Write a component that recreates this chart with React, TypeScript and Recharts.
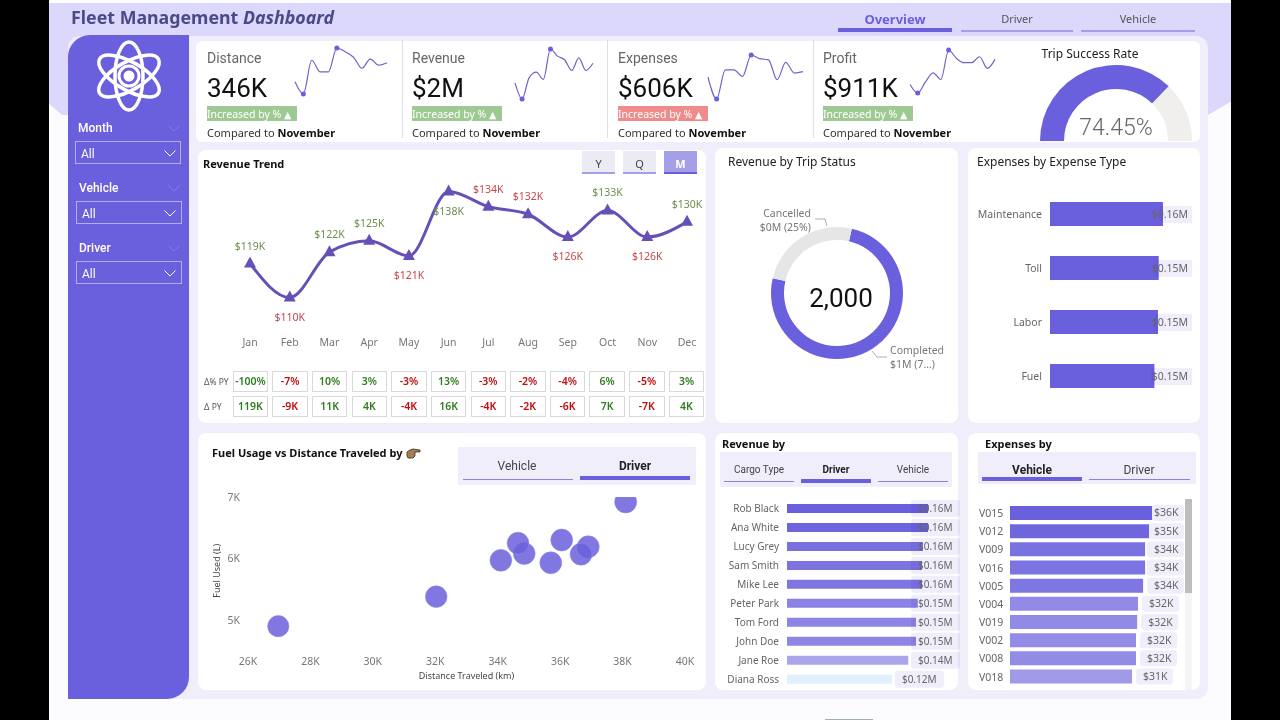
import React from 'react';
import { LineChart, Line, XAxis, YAxis, ZAxis, PieChart, Pie, Cell, BarChart, Bar, ScatterChart, Scatter, LabelList } from 'recharts';

const months = ['Jan','Feb','Mar','Apr','May','Jun','Jul','Aug','Sep','Oct','Nov','Dec'];
const revenueK = [119,110,122,125,121,138,134,132,126,133,126,130];
const distanceK = [26.5,24.5,30,28.1,28.1,32,31.4,30.5,28.7,30.2,29.2,29.6];
const expensesK = [48.4,42.5,50.4,50.4,48.6,54.4,53.4,53.1,47.7,52.4,49.5,49.9];
const profitK = [64.6,58.8,66.4,72.6,68,88.2,82.5,79.5,79.5,83.6,75.6,81.8];
const deltaPct = ['-100%','-7%','10%','3%','-3%','13%','-3%','-2%','-4%','6%','-5%','3%'];
const deltaK = [119,-9,11,4,-4,16,-4,-2,-6,7,-7,4];

const kpiNames = ['Distance','Revenue','Expenses','Profit'];
const kpiValues = ['346K','$2M','$606K','$911K'];
const kpiGood = [true,true,false,true];

const tripSuccess = [74.45, 25.55];
const statusNames = ['Completed','Cancelled'];
const statusValues = [1137000, 379000];
const statusCaptions = ['$1M (7...)','$0M (25%)'];
const tripCount = '2,000';

const expenseTypes = ['Maintenance','Toll','Labor','Fuel'];
const expenseTypeK = [158,152,151,146];

const drivers = ['Rob Black','Ana White','Lucy Grey','Sam Smith','Mike Lee','Peter Park','Tom Ford','John Doe','Jane Roe','Diana Ross'];
const driverRevenueK = [164,164,158,157,157,152,150,150,141,122];
const vehicles = ['V015','V012','V009','V016','V005','V004','V019','V002','V008','V018'];
const vehicleExpenseK = [36,35.2,34.2,34.2,33.7,32.4,32.2,31.9,31.9,30.9];

const scatterDistance = [38100,36900,36670,36050,35700,34850,34650,34100,32030,26970];
const scatterFuel = [6920,6190,6070,6300,5930,6080,6250,5970,5380,4900];
const xTicks = [26000,28000,30000,32000,34000,36000,38000,40000];
const yTicks = [5000,6000,7000];

const PURPLE = '#6a5fdc';
const driverColors = ['#6a5fdc','#6e64dd','#7a71e0','#7c73e1','#7e75e1','#8a82e4','#8d85e4','#8e86e5','#aaa6ec','#e2effc'];
const vehicleColors = ['#6a5fdc','#6f66de','#7a72e0','#7b73e1','#7e76e1','#918ae6','#928be6','#938ce6','#938ce7','#a09ae9'];

const trendData = months.map((m, i) => ({ m, v: revenueK[i], d: deltaK[i] }));
const belowMonths = new Set(['Feb','May','Jun','Sep','Nov']);

const SEGOE = '"Noto Sans", sans-serif';
const DIN = 'Roboto, sans-serif';

type TP = { x:number; y:number; s?:number; c?:string; b?:number|string; f?:string; a?:'l'|'c'|'r'; i?:boolean; children:React.ReactNode };
function T({x,y,s=11,c='#333',b=400,f=DIN,a='l',i=false,children}:TP){
  const tx = a==='c'?'-50%':a==='r'?'-100%':'0';
  return <div style={{position:'absolute',left:x,top:y,transform:`translate(${tx},-50%)`,fontSize:s,color:c,fontWeight:b,fontFamily:f,fontStyle:i?'italic':'normal',lineHeight:1,whiteSpace:'nowrap'}}>{children}</div>;
}
function Box({x,y,w,h,bg,r=0,style}:{x:number;y:number;w:number;h:number;bg:string;r?:number|string;style?:React.CSSProperties}){
  return <div style={{position:'absolute',left:x,top:y,width:w,height:h,background:bg,borderRadius:r,...style}}/>;
}

function Spark({x,y,w,h,data}:{x:number;y:number;w:number;h:number;data:number[]}){
  const rows = months.map((m,i)=>({m,v:data[i]}));
  const lo = Math.min(...data), hi = Math.max(...data);
  const dot = (p:any)=> (p.value===lo||p.value===hi) ? <circle key={p.index} cx={p.cx} cy={p.cy} r={2.5} fill={PURPLE}/> : <g key={p.index}/>;
  return <div style={{position:'absolute',left:x-4,top:y-4}}>
    <LineChart width={w+8} height={h+8} data={rows} margin={{top:4,right:4,bottom:4,left:4}}>
      <XAxis dataKey="m" hide/><YAxis hide domain={['dataMin','dataMax']}/>
      <Line dataKey="v" type="monotone" stroke="#6f63c8" strokeWidth={1.2} dot={dot} activeDot={false} isAnimationActive={false}/>
    </LineChart></div>;
}

function Slicer({items,active,size,onY,offY}:{items:{t:string;cx:number;x:number;w:number}[];active:number;size:number;onY:number;offY:number}){
  return <>{items.map((it,i)=><React.Fragment key={it.t}>
    <T x={it.cx} y={0} a="c" s={size} b={i===active?700:400} c={i===active?'#222':'#444'}>{it.t}</T>
    <Box x={it.x} y={i===active?onY:offY} w={it.w} h={i===active?3.5:1.2} bg={i===active?PURPLE:'#8a82e0'}/>
  </React.Fragment>)}</>;
}

const Tri = (p:any)=><polygon key={p.index} points={`${p.cx},${p.cy-7} ${p.cx+6},${p.cy+4} ${p.cx-6},${p.cy+4}`} fill="#6650b8"/>;
const TrendLabel = (p:any)=>{
  const m = months[p.index]; const below = belowMonths.has(m);
  return <text x={p.x} y={p.y+(below?23:-14)} textAnchor="middle" fontSize={10.5} fontFamily={SEGOE} fill={deltaK[p.index]>=0?'#6d8f4e':'#c9474d'}>{`$${p.value}K`}</text>;
};

const fmtM = (k:number)=>`$${(k/1000).toFixed(2)}M`;

const ExpenseTypeLabel = (p:any)=>{
  const endX = p.x+p.width;
  const right = 1188-968;
  return <g>
    <rect x={endX-3} y={p.y+4} width={right+4-endX+3} height={17} fill="#f0eefb" style={{mixBlendMode:'multiply'}}/>
    <text x={right} y={p.y+p.height/2+3.5} textAnchor="end" fontSize={10.5} fontFamily={SEGOE} fill="#666">{fmtM(p.value)}</text>
  </g>;
};
const DriverLabel = (p:any)=>{
  const endX = p.x+p.width;
  const start = Math.min(endX+10, 203);
  return <g>
    <rect x={start-7} y={p.y+p.height/2-8.5} width={49} height={17} rx={3} fill="#f0eefb" style={{mixBlendMode:'multiply'}}/>
    <text x={start} y={p.y+p.height/2+3.5} fontSize={10} fontFamily={SEGOE} fill="#666">{fmtM(p.value)}</text>
  </g>;
};
const DriverTick = (p:any)=><text x={64} y={p.y+3.5} textAnchor="end" fontSize={10} fontFamily={SEGOE} fill="#666">{p.payload.value}</text>;
const VehicleLabel = (p:any)=>{
  const endX = p.x+p.width;
  const start = Math.min(endX+11, 186);
  const left = Math.max(start-7, endX);
  return <g>
    <rect x={left} y={p.y+p.height/2-8} width={start+30-left} height={16} rx={3} fill="#f0eefb"/>
    <text x={start} y={p.y+p.height/2+3.5} fontSize={10.5} fontFamily={SEGOE} fill="#666">{`$${Math.round(p.value)}K`}</text>
  </g>;
};
const VehicleTick = (p:any)=><text x={11} y={p.y+4} fontSize={10.5} fontFamily={SEGOE} fill="#666">{p.payload.value}</text>;

const PieLabel = (p:any)=>{
  const i = p.index;
  const cx = p.cx, cy = p.cy;
  if(i===1){
    return <g>
      <polyline points={`${cx-10},${cy-67} ${cx-12},${cy-74} ${cx-22},${cy-74}`} fill="none" stroke="#999" strokeWidth={0.8}/>
      <text x={cx-26} y={cy-76} textAnchor="end" fontSize={10.5} fontFamily={SEGOE} fill="#777">{statusNames[i]}</text>
      <text x={cx-26} y={cy-62} textAnchor="end" fontSize={10.5} fontFamily={SEGOE} fill="#777">{statusCaptions[i]}</text>
    </g>;
  }
  return <g>
    <polyline points={`${cx+35},${cy+58} ${cx+40},${cy+64} ${cx+50},${cy+64}`} fill="none" stroke="#999" strokeWidth={0.8}/>
    <text x={cx+53} y={cy+61} fontSize={10.5} fontFamily={SEGOE} fill="#777">{statusNames[i]}</text>
    <text x={cx+53} y={cy+75} fontSize={10.5} fontFamily={SEGOE} fill="#777">{statusCaptions[i]}</text>
  </g>;
};

function Chevron({x,y,c='#fff',w=12}:{x:number;y:number;c?:string;w?:number}){
  return <svg style={{position:'absolute',left:x,top:y}} width={w} height={w/2+1}><polyline points={`0.5,0.5 ${w/2},${w/2} ${w-0.5},0.5`} fill="none" stroke={c} strokeWidth={1}/></svg>;
}
function Filter({label,ly,bx,by}:{label:string;ly:number;bx:number;by:number}){
  return <>
    <T x={bx+3} y={ly} s={12} b={500} c="#fff" f={DIN}>{label}</T>
    <Chevron x={168} y={ly-3} c="#857ce6"/>
    <div style={{position:'absolute',left:bx,top:by,width:104,height:21,border:'1px solid #b3adf2'}}/>
    <T x={bx+6} y={by+13} s={12} c="#fff">All</T>
    <Chevron x={164} y={by+9}/>
  </>;
}

export default function App(){
  const kpiX = [207,412,618,823];
  const cellX = (i:number)=>232.7+i*39.64;
  const scatterData = scatterDistance.map((x,i)=>({x,y:scatterFuel[i],z:driverRevenueK[i]}));
  return <div style={{position:'absolute',left:0,top:0,width:1280,height:720,overflow:'hidden',background:'#000',fontFamily:DIN}}>
    <Box x={49} y={0} w={1182} h={720} bg="#fcfcfe"/>
    <Box x={49} y={3} w={1182} h={112} bg="#dcd8fb" style={{clipPath:'polygon(0 0,100% 0,100% 88%,1159px 100%,13px 100%,0 90%)'}}/>
    <Box x={68} y={36} w={1140} h={663} bg="#f0eefb" r={12}/>
    <Box x={825} y={719} w={48} h={1} bg="#9fb0b5"/>

    <T x={71} y={18} s={17.8} b={700} f={SEGOE} c="#4a4a88">Fleet Management <i>Dashboard</i></T>
    <T x={895} y={19} s={13} b={700} c={PURPLE} a="c" f={SEGOE}>Overview</T>
    <Box x={838} y={28} w={114} h={4} bg={PURPLE}/>
    <T x={1017} y={18} s={11} c="#555" a="c" f={SEGOE}>Driver</T>
    <Box x={961} y={30} w={112} h={2} bg="#a59fe8"/>
    <T x={1138} y={18} s={11} c="#555" a="c" f={SEGOE}>Vehicle</T>
    <Box x={1081} y={30} w={114} h={2} bg="#a59fe8"/>

    {/* sidebar */}
    <Box x={68} y={35} w={121} h={664} bg={PURPLE} r="22px 0 22px 0"/>
    <svg style={{position:'absolute',left:94,top:40}} width={70} height={72} viewBox="-35 -36 70 72">
      <g fill="none" stroke="#fff" strokeWidth={3.5}>
        <ellipse rx={14} ry={34}/>
        <ellipse rx={14} ry={34} transform="rotate(60)"/>
        <ellipse rx={14} ry={34} transform="rotate(-60)"/>
        <circle r={10} strokeWidth={3}/>
      </g>
      <circle r={5.5} fill="#fff"/>
    </svg>
    <Filter label="Month" ly={128} bx={75} by={141}/>
    <Filter label="Vehicle" ly={188} bx={76} by={201}/>
    <Filter label="Driver" ly={248} bx={76} by={261}/>

    {/* KPI strip */}
    <Box x={196} y={41} w={1004} h={101} bg="#fff" r={6}/>
    {[402,607,813].map(x=><Box key={x} x={x} y={40} w={1} h={98} bg="#dedee6"/>)}
    {kpiNames.map((n,i)=><React.Fragment key={n}>
      <T x={kpiX[i]} y={58} s={14} c="#666">{n}</T>
      <T x={kpiX[i]} y={88} s={26} c="#111">{kpiValues[i]}</T>
      <Box x={kpiX[i]} y={106} w={90} h={15} bg={kpiGood[i]?'#9fc993':'#ef8b8b'}/>
      <T x={kpiX[i]} y={113.5} s={10.5} c="#fff" f={SEGOE}>Increased by % <span style={{fontFamily:'"DejaVu Sans"',fontSize:9.5}}>▲</span></T>
      <T x={kpiX[i]} y={132} s={11} f={SEGOE} c="#333">Compared to <b style={{color:'#111'}}>November</b></T>
    </React.Fragment>)}
    <Spark x={295} y={48} w={92} h={46} data={distanceK}/>
    <Spark x={515} y={49} w={78} h={50} data={revenueK}/>
    <Spark x={708} y={55} w={95} h={44} data={expensesK}/>
    <Spark x={910} y={50} w={85} h={43} data={profitK}/>

    <T x={1090} y={54} s={12} c="#222" a="c" f={SEGOE}>Trip Success Rate</T>
    <div style={{position:'absolute',left:1030,top:55}}>
      <PieChart width={172} height={87} margin={{top:0,right:0,bottom:0,left:0}}>
        <Pie data={tripSuccess.map(v=>({v}))} dataKey="v" cx={86} cy={86} outerRadius={76} innerRadius={52} startAngle={180} endAngle={0} stroke="none" isAnimationActive={false}>
          <Cell fill={PURPLE}/><Cell fill="#f0efed"/>
        </Pie>
      </PieChart>
    </div>
    <T x={1116} y={127} s={23} b={300} c="#666" a="c">{tripSuccess[0]}%</T>

    {/* revenue trend */}
    <Box x={198} y={150} w={508} h={273} bg="#fff" r={8}/>
    <T x={203} y={163} s={11} b={700} c="#111" f={SEGOE}>Revenue Trend</T>
    {['Y','Q','M'].map((t,i)=>{const x=582+i*41;const on=t==='M';return <React.Fragment key={t}>
      <Box x={x} y={151} w={33} h={23} bg={on?'#a59fe8':'#ebebf3'}/>
      <Box x={x} y={172} w={33} h={2} bg={on?PURPLE:'#a59fe8'}/>
      <T x={x+16.5} y={163} s={11} a="c" b={on?700:400} c={on?'#fff':'#444'} f={SEGOE}>{t}</T>
    </React.Fragment>;})}
    <div style={{position:'absolute',left:198,top:164.5}}>
      <LineChart width={508} height={200.5} data={trendData} margin={{top:0,right:19,bottom:0,left:52}}>
        <XAxis dataKey="m" axisLine={false} tickLine={false} tickSize={0} tickMargin={3} interval={0} tick={{fontSize:10.5,fill:'#777',fontFamily:SEGOE}}/>
        <YAxis hide domain={[100,145]}/>
        <Line dataKey="v" type="monotone" stroke="#6650b8" strokeWidth={3} dot={Tri} activeDot={false} isAnimationActive={false}>
          <LabelList dataKey="v" content={TrendLabel}/>
        </Line>
      </LineChart>
    </div>
    <T x={204} y={382} s={8.5} c="#555" f={SEGOE}>Δ% PY</T>
    <T x={204} y={407} s={8.5} c="#555" f={SEGOE}>Δ PY</T>
    {months.map((m,i)=>{const col=deltaK[i]>=0?'#2f7d20':'#c00d0d';const cell=(y:number,t:string)=><div style={{position:'absolute',left:cellX(i),top:y,width:33.5,height:18.5,border:'1px solid #d9d9d9',color:col,fontSize:10.5,fontWeight:600,fontFamily:SEGOE,lineHeight:'18.5px',textAlign:'center',whiteSpace:'nowrap'}}>{t}</div>;
      return <React.Fragment key={m}>{cell(371,deltaPct[i])}{cell(396,`${deltaK[i]}K`)}</React.Fragment>;})}

    {/* trip status */}
    <Box x={715} y={148} w={243} h={275} bg="#fff" r={8}/>
    <T x={728} y={162} s={12} c="#222" f={SEGOE}>Revenue by Trip Status</T>
    <div style={{position:'absolute',left:715,top:150}}>
      <PieChart width={243} height={273} margin={{top:0,right:0,bottom:0,left:0}}>
        <Pie data={statusValues.map((v,i)=>({name:statusNames[i],v}))} dataKey="v" cx={122} cy={143} outerRadius={66} innerRadius={53} startAngle={77} endAngle={-283} stroke="none" label={PieLabel} labelLine={false} isAnimationActive={false}>
          <Cell fill={PURPLE}/><Cell fill="#e6e6e6"/>
        </Pie>
      </PieChart>
    </div>
    <T x={841} y={298} s={26} c="#111" a="c">{tripCount}</T>

    {/* expense type */}
    <Box x={968} y={148} w={232} h={275} bg="#fff" r={8}/>
    <T x={977} y={162} s={12} c="#222" f={SEGOE}>Expenses by Expense Type</T>
    <div style={{position:'absolute',left:968,top:187}}>
      <BarChart width={240} height={216} layout="vertical" data={expenseTypes.map((n,i)=>({n,v:expenseTypeK[i]}))} margin={{top:0,right:15,bottom:0,left:0}}>
        <XAxis type="number" hide domain={[0,200]}/>
        <YAxis type="category" dataKey="n" width={82} axisLine={false} tickLine={false} tick={{fontSize:10.5,fill:'#666',fontFamily:SEGOE}} interval={0}/>
        <Bar dataKey="v" fill={PURPLE} barSize={24} isAnimationActive={false}>
          <LabelList dataKey="v" content={ExpenseTypeLabel}/>
        </Bar>
      </BarChart>
    </div>

    {/* scatter */}
    <Box x={198} y={433} w={508} h={257} bg="#fff" r={8}/>
    <T x={212} y={452} s={11} b={700} c="#111" f={SEGOE}>Fuel Usage vs Distance Traveled by</T>
    <svg style={{position:'absolute',left:406,top:447}} width={15} height={12} viewBox="0 0 15 12">
      <path d="M1 5 L4 3 L7 2 L14 3 L14 5 L9 5 L9 9 L7 11 L2 11 L1 9 Z" fill="#a47c55" stroke="#3a2a1c" strokeWidth={0.8}/>
    </svg>
    <Box x={458} y={447} w={238} h={38} bg="#f0eefb"/>
    <div style={{position:'absolute',left:0,top:466}}>
      <Slicer active={1} size={12} onY={10} offY={13} items={[{t:'Vehicle',cx:517,x:463,w:110},{t:'Driver',cx:635,x:580,w:110}]}/>
    </div>
    <div style={{position:'absolute',left:198,top:485}}>
      <ScatterChart width={508} height={199.6} margin={{top:12,right:21,bottom:0,left:0}}>
        <XAxis type="number" dataKey="x" domain={[26000,40000]} ticks={xTicks} interval={0} allowDataOverflow axisLine={false} tickLine={false} tickMargin={7} height={40} tickFormatter={(v:number)=>`${v/1000}K`} tick={{fontSize:10.5,fill:'#777',fontFamily:SEGOE}}
          label={{value:'Distance Traveled (km)',position:'insideBottom',offset:6,style:{fontSize:9,fill:'#444',fontFamily:SEGOE}}}/>
        <YAxis type="number" dataKey="y" domain={[4600,7000]} ticks={yTicks} interval={0} allowDataOverflow axisLine={false} tickLine={false} width={50} tickFormatter={(v:number)=>`${v/1000}K`} tick={{fontSize:10.5,fill:'#777',fontFamily:SEGOE}}
          label={{value:'Fuel Used (L)',angle:-90,position:'insideLeft',offset:19,style:{fontSize:9,fill:'#444',fontFamily:SEGOE,textAnchor:'middle'}}}/>
        <ZAxis type="number" dataKey="z" range={[283,380]}/>
        <Scatter data={scatterData} fill={PURPLE} fillOpacity={0.85} stroke="#8f87e6" strokeWidth={0.6} isAnimationActive={false}/>
      </ScatterChart>
    </div>

    {/* revenue by */}
    <Box x={715} y={433} w={243} h={257} bg="#fff" r={8}/>
    <T x={722} y={443} s={11} b={700} c="#111" f={SEGOE}>Revenue by</T>
    <Box x={720} y={452} w={232} h={35} bg="#f0eefb"/>
    <div style={{position:'absolute',left:0,top:470}}>
      <Slicer active={1} size={10} onY={9} offY={11} items={[{t:'Cargo Type',cx:759,x:724,w:70},{t:'Driver',cx:836,x:801,w:70},{t:'Vehicle',cx:913,x:878,w:70}]}/>
    </div>
    <div style={{position:'absolute',left:715,top:498.8}}>
      <BarChart width={250} height={189.7} layout="vertical" data={drivers.map((n,i)=>({n,v:driverRevenueK[i]}))} margin={{top:0,right:6,bottom:0,left:0}}>
        <XAxis type="number" hide domain={[0,200]}/>
        <YAxis type="category" dataKey="n" width={72} axisLine={false} tickLine={false} tick={DriverTick} interval={0}/>
        <Bar dataKey="v" barSize={9} isAnimationActive={false}>
          {drivers.map((n,i)=><Cell key={n} fill={driverColors[i]}/>)}
          <LabelList dataKey="v" content={DriverLabel}/>
        </Bar>
      </BarChart>
    </div>

    {/* expenses by */}
    <Box x={968} y={433} w={232} h={257} bg="#fff" r={8}/>
    <T x={985} y={443} s={11} b={700} c="#111" f={SEGOE}>Expenses by</T>
    <Box x={978} y={452} w={218} h={32} bg="#f0eefb"/>
    <div style={{position:'absolute',left:0,top:470}}>
      <Slicer active={0} size={12} onY={7} offY={9} items={[{t:'Vehicle',cx:1032,x:982,w:100},{t:'Driver',cx:1139,x:1089,w:101}]}/>
    </div>
    <Box x={1185} y={499} w={7} h={191} bg="#f5f5f7"/>
    <Box x={1185} y={499} w={7} h={94} bg="#bdbdbd"/>
    <div style={{position:'absolute',left:968,top:504}}>
      <BarChart width={235} height={181.7} layout="vertical" data={vehicles.map((n,i)=>({n,v:vehicleExpenseK[i]}))} margin={{top:0,right:15.25,bottom:0,left:0}}>
        <XAxis type="number" hide domain={[0,45]}/>
        <YAxis type="category" dataKey="n" width={42} axisLine={false} tickLine={false} tick={VehicleTick} interval={0}/>
        <Bar dataKey="v" barSize={14} isAnimationActive={false}>
          {vehicles.map((n,i)=><Cell key={n} fill={vehicleColors[i]}/>)}
          <LabelList dataKey="v" content={VehicleLabel}/>
        </Bar>
      </BarChart>
    </div>
  </div>;
}
